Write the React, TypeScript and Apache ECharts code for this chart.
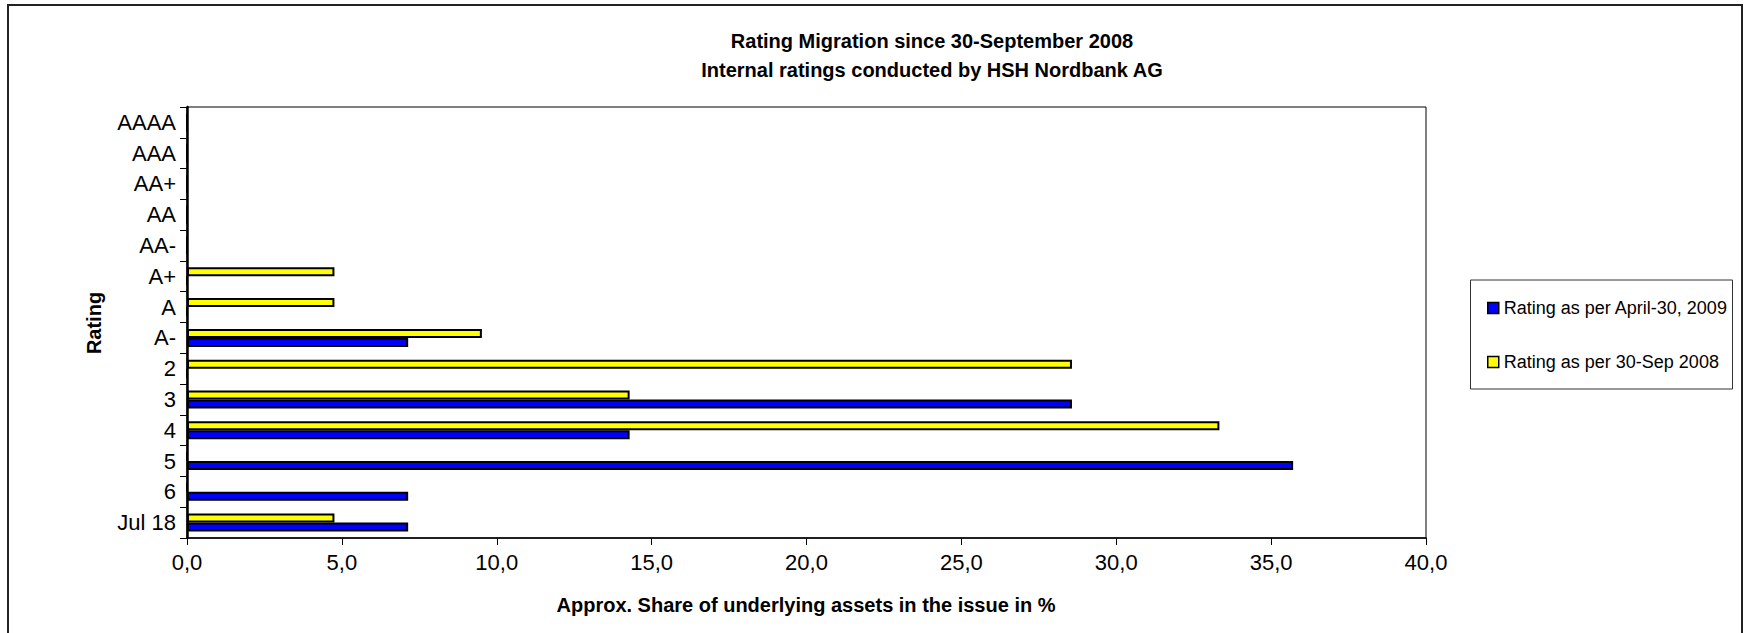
import React, { useEffect, useRef } from "react";
import * as echarts from "echarts";

const categories = ["AAAA", "AAA", "AA+", "AA", "AA-", "A+", "A", "A-", "2", "3", "4", "5", "6", "Jul 18"];
const seriesNames = ["Rating as per April-30, 2009", "Rating as per 30-Sep 2008"];
const apr2009 = [0, 0, 0, 0, 0, 0, 0, 7.14, 0, 28.57, 14.29, 35.71, 7.14, 7.14];
const sep2008 = [0, 0, 0, 0, 0, 4.76, 4.76, 9.52, 28.57, 14.29, 33.33, 0, 0, 4.76];
const titleLines = ["Rating Migration since 30-September 2008", "Internal ratings conducted by HSH Nordbank AG"];
const xAxisTitle = "Approx. Share of underlying assets in the issue in %";
const yAxisTitle = "Rating";

const FONT = 'Arial, "Liberation Sans", sans-serif';

export default function App() {
  const ref = useRef<HTMLDivElement>(null);
  useEffect(() => {
    if (!ref.current) return;
    const chart = echarts.init(ref.current, null, { renderer: "svg" });
    const barStyle = (color: string) => ({ color, borderColor: "#000", borderWidth: 2 });
    chart.setOption({
      animation: false,
      backgroundColor: "#fff",
      textStyle: { fontFamily: FONT },
      grid: { left: 187, top: 107, right: 319, bottom: 95, show: true, borderColor: "#000", borderWidth: 1, backgroundColor: "transparent" },
      legend: {
        orient: "vertical",
        left: 1482,
        top: 294,
        itemWidth: 11,
        itemHeight: 11,
        itemGap: 36,
        icon: "rect",
        data: seriesNames,
        itemStyle: { borderColor: "#000", borderWidth: 1.5 },
        textStyle: { fontSize: 18, color: "#000", fontFamily: FONT, lineHeight: 18 },
      },
      xAxis: {
        type: "value",
        min: 0,
        max: 40,
        interval: 5,
        axisLine: { show: true, lineStyle: { color: "#000", width: 1.5 } },
        axisTick: { show: true, length: 7, lineStyle: { color: "#000", width: 1 } },
        splitLine: { show: false },
        axisLabel: {
          fontSize: 22,
          color: "#000",
          fontFamily: FONT,
          margin: 13,
          formatter: (v: number) => v.toFixed(1).replace(".", ","),
        },
      },
      yAxis: {
        type: "category",
        data: categories,
        inverse: true,
        axisLine: { show: true, lineStyle: { color: "#000", width: 2.5 } },
        axisTick: { show: true, length: 7, lineStyle: { color: "#000", width: 1 } },
        axisLabel: { fontSize: 22, color: "#000", fontFamily: FONT, margin: 11 },
      },
      series: [
        { name: seriesNames[1], type: "bar", data: sep2008, barWidth: 9, barGap: "0%", itemStyle: barStyle("#FFFF00") },
        { name: seriesNames[0], type: "bar", data: apr2009, barWidth: 9, barGap: "0%", itemStyle: barStyle("#0000FF") },
      ],
      graphic: [
        { type: "rect", shape: { x: 8, y: 5, width: 1734, height: 700 }, style: { fill: "none", stroke: "#222", lineWidth: 2 }, z: 100 },
        { type: "rect", shape: { x: 1470.5, y: 280, width: 262, height: 109 }, style: { fill: "none", stroke: "#333", lineWidth: 1 }, z: 100 },
        { type: "text", x: 932, y: 41, style: { text: titleLines[0], font: `bold 20px ${FONT}`, fill: "#000", textAlign: "center", textVerticalAlign: "middle" } },
        { type: "text", x: 932, y: 70, style: { text: titleLines[1], font: `bold 20px ${FONT}`, fill: "#000", textAlign: "center", textVerticalAlign: "middle" } },
        { type: "text", x: 806, y: 605, style: { text: xAxisTitle, font: `bold 20px ${FONT}`, fill: "#000", textAlign: "center", textVerticalAlign: "middle" } },
        { type: "text", x: 94, y: 323, rotation: Math.PI / 2, style: { text: yAxisTitle, font: `bold 20px ${FONT}`, fill: "#000", textAlign: "center", textVerticalAlign: "middle" } },
      ],
    });
    return () => chart.dispose();
  }, []);
  return <div ref={ref} style={{ position: "fixed", left: 0, top: 0, width: 1745, height: 633 }} />;
}
